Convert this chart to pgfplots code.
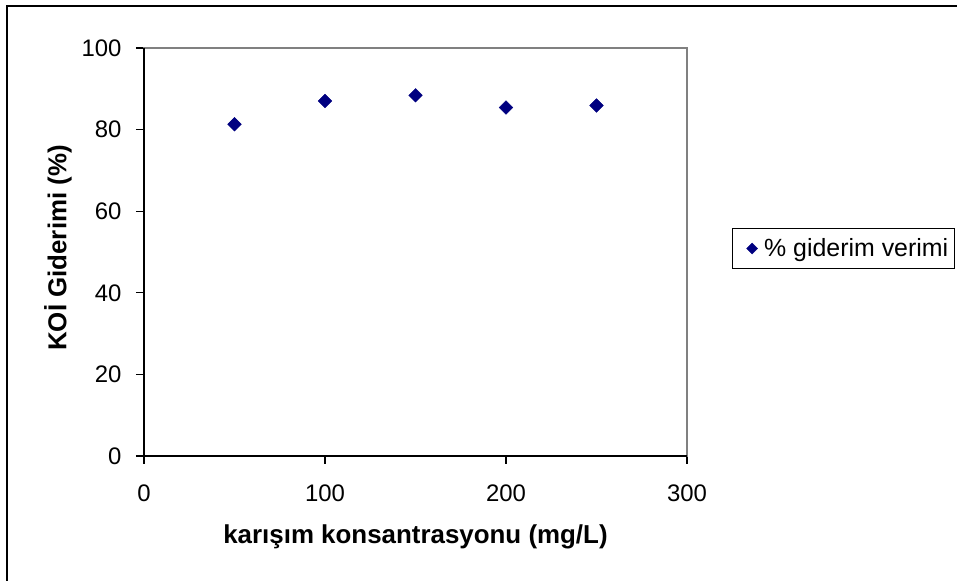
\documentclass[border=0pt]{standalone}
\usepackage{pgfplots}
\pgfplotsset{compat=1.18}
\usepackage{fontspec}
\setmainfont{Liberation Sans}
\definecolor{navy}{RGB}{0,0,128}
\definecolor{framegray}{RGB}{128,128,128}
\begin{document}
\begin{tikzpicture}[x=1bp,y=1bp]
% page area and chart frame
\clip (-144,-125) rectangle (813,456);
\fill[white] (-144,-125) rectangle (813,456);
\draw[line width=1.3bp] (-137,-140) -- (-137,450) -- (830,450);
\begin{axis}[
  at={(0,0)}, anchor=south west,
  scale only axis, width=543bp, height=408bp,
  xmin=0, xmax=300, ymin=0, ymax=100,
  xtick={0,100,200,300}, ytick={0,20,40,60,80,100},
  xtick pos=left, ytick pos=left,
  tick align=outside, major tick length=8bp,
  tick style={black, line width=1.1bp},
  axis line style={framegray, line width=1.2bp},
  /pgf/number format/assume math mode=true,
  ticklabel style={font=\fontsize{24}{28}\selectfont},
  xticklabel style={yshift=-17bp},
  yticklabel style={xshift=-11bp},
  xlabel={karışım konsantrasyonu (mg/L)},
  ylabel={KOİ Giderimi (\%)},
  label style={font=\fontsize{26}{30}\selectfont\bfseries},
  xlabel style={at={(axis description cs:0.5,-0.1985)}, anchor=center},
  ylabel style={at={(axis description cs:-0.1584,0.51)}, anchor=center},
  legend style={at={(1.0823,0.558)}, anchor=north west,
    draw=black, line width=0.9bp, font=\fontsize{25}{29}\selectfont,
    inner xsep=4bp, inner ysep=8bp, legend cell align=left},
  legend image code/.code={
    \path[draw=none, fill=none] (0bp,-4bp) rectangle (26bp,4bp);
    \draw[#1, mark size=3.9bp] plot coordinates {(16bp,0bp)};},
  clip=false,
]
\addplot[only marks, mark=square*, mark size=4.8bp,
  mark options={rotate=45, fill=navy, draw=navy, line width=0.4bp}]
  coordinates {(50,81.3) (100,87.0) (150,88.4) (200,85.4) (250,85.9)};
\addlegendentry{\% giderim verimi\hspace{14bp}}
\draw[black, line width=1.3bp] (rel axis cs:0,1) -- (rel axis cs:0,0) -- (rel axis cs:1,0);
\end{axis}
\end{tikzpicture}
\end{document}
